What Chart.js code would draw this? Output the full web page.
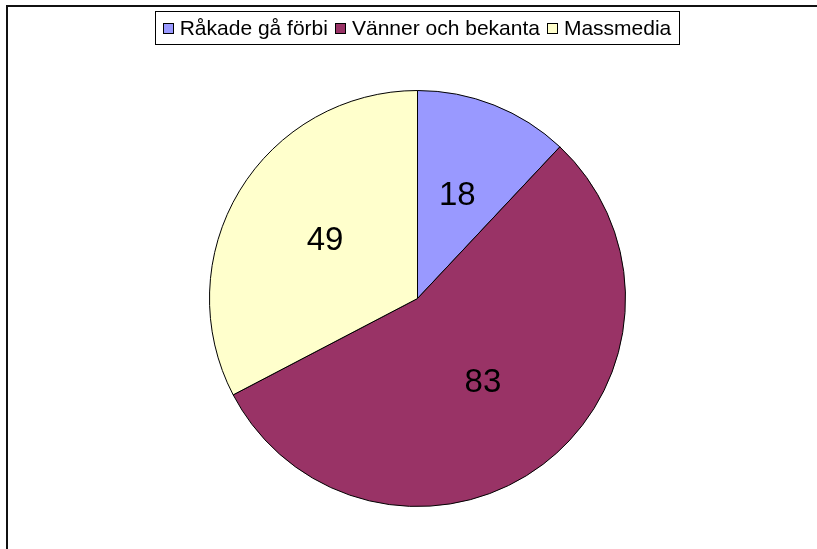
<!DOCTYPE html>
<html>
<head>
<meta charset="utf-8">
<script src="https://cdn.jsdelivr.net/npm/chart.js@4"></script>
<style>
  body { margin: 0; background: #fff; }
  canvas { display: block; }
</style>
</head>
<body>
<canvas id="myChart" width="817" height="549"></canvas>
<script>
var categories = ["Råkade gå förbi", "Vänner och bekanta", "Massmedia"];
var values = [18, 83, 49];
var colours = ["#9999FF", "#993366", "#FFFFCC"];

var FONT = '"Liberation Sans", Arial, sans-serif';

// frame lines (only top and left edge are visible in the original)
var framePlugin = {
  id: "frame",
  beforeDraw: function(chart) {
    var ctx = chart.ctx;
    ctx.save();
    ctx.fillStyle = "#fff";
    ctx.fillRect(0, 0, chart.width, chart.height);
    ctx.fillStyle = "#111";
    ctx.fillRect(6, 5, chart.width - 6, 2);
    ctx.fillRect(6, 5, 2, chart.height - 5);
    ctx.restore();
  }
};

// value labels inside the slices
var valuePlugin = {
  id: "values",
  afterDatasetsDraw: function(chart) {
    var ctx = chart.ctx;
    var meta = chart.getDatasetMeta(0);
    ctx.save();
    ctx.font = "33px " + FONT;
    ctx.fillStyle = "#000";
    ctx.textAlign = "center";
    ctx.textBaseline = "middle";
    meta.data.forEach(function(arc, i) {
      var p = arc.getProps(["x", "y", "startAngle", "endAngle", "outerRadius"], true);
      var mid = (p.startAngle + p.endAngle) / 2;
      var r = p.outerRadius * 0.52;
      ctx.fillText(String(values[i]), p.x + Math.cos(mid) * r, p.y + Math.sin(mid) * r - 2);
    });
    ctx.restore();
  }
};

// boxed legend at the top
var legendPlugin = {
  id: "boxLegend",
  afterDraw: function(chart) {
    var ctx = chart.ctx;
    ctx.save();
    ctx.font = "21px " + FONT;
    var box = 11, gap = 6, space = 7;
    var widths = categories.map(function(c) { return ctx.measureText(c).width; });
    var total = 0;
    widths.forEach(function(w, i) { total += box + gap + w + (i > 0 ? space : 0); });
    var left = 417 - total / 2;
    var top = 11, h = 33;
    ctx.strokeStyle = "#000";
    ctx.lineWidth = 1;
    ctx.strokeRect(Math.round(left - 8) + 0.5, top + 0.5, Math.round(total + 15), h);
    var x = left;
    var cy = top + h / 2 + 0.5;
    ctx.textBaseline = "middle";
    categories.forEach(function(c, i) {
      ctx.fillStyle = colours[i];
      ctx.fillRect(Math.round(x) + 0.5, Math.round(cy - box / 2) + 0.5, box - 1, box - 1);
      ctx.strokeStyle = "#000";
      ctx.strokeRect(Math.round(x) + 0.5, Math.round(cy - box / 2) + 0.5, box - 1, box - 1);
      ctx.fillStyle = "#000";
      ctx.fillText(c, x + box + gap, cy + 1);
      x += box + gap + widths[i] + space;
    });
    ctx.restore();
  }
};

new Chart(document.getElementById("myChart"), {
  type: "pie",
  data: {
    labels: categories,
    datasets: [{
      data: values,
      backgroundColor: colours,
      borderColor: "#000",
      borderWidth: 1
    }]
  },
  options: {
    responsive: false,
    devicePixelRatio: 1,
    animation: false,
    layout: { padding: { top: 90, bottom: 42, left: 18, right: 0 } },
    plugins: {
      legend: { display: false },
      tooltip: { enabled: false }
    }
  },
  plugins: [framePlugin, valuePlugin, legendPlugin]
});
</script>
</body>
</html>
